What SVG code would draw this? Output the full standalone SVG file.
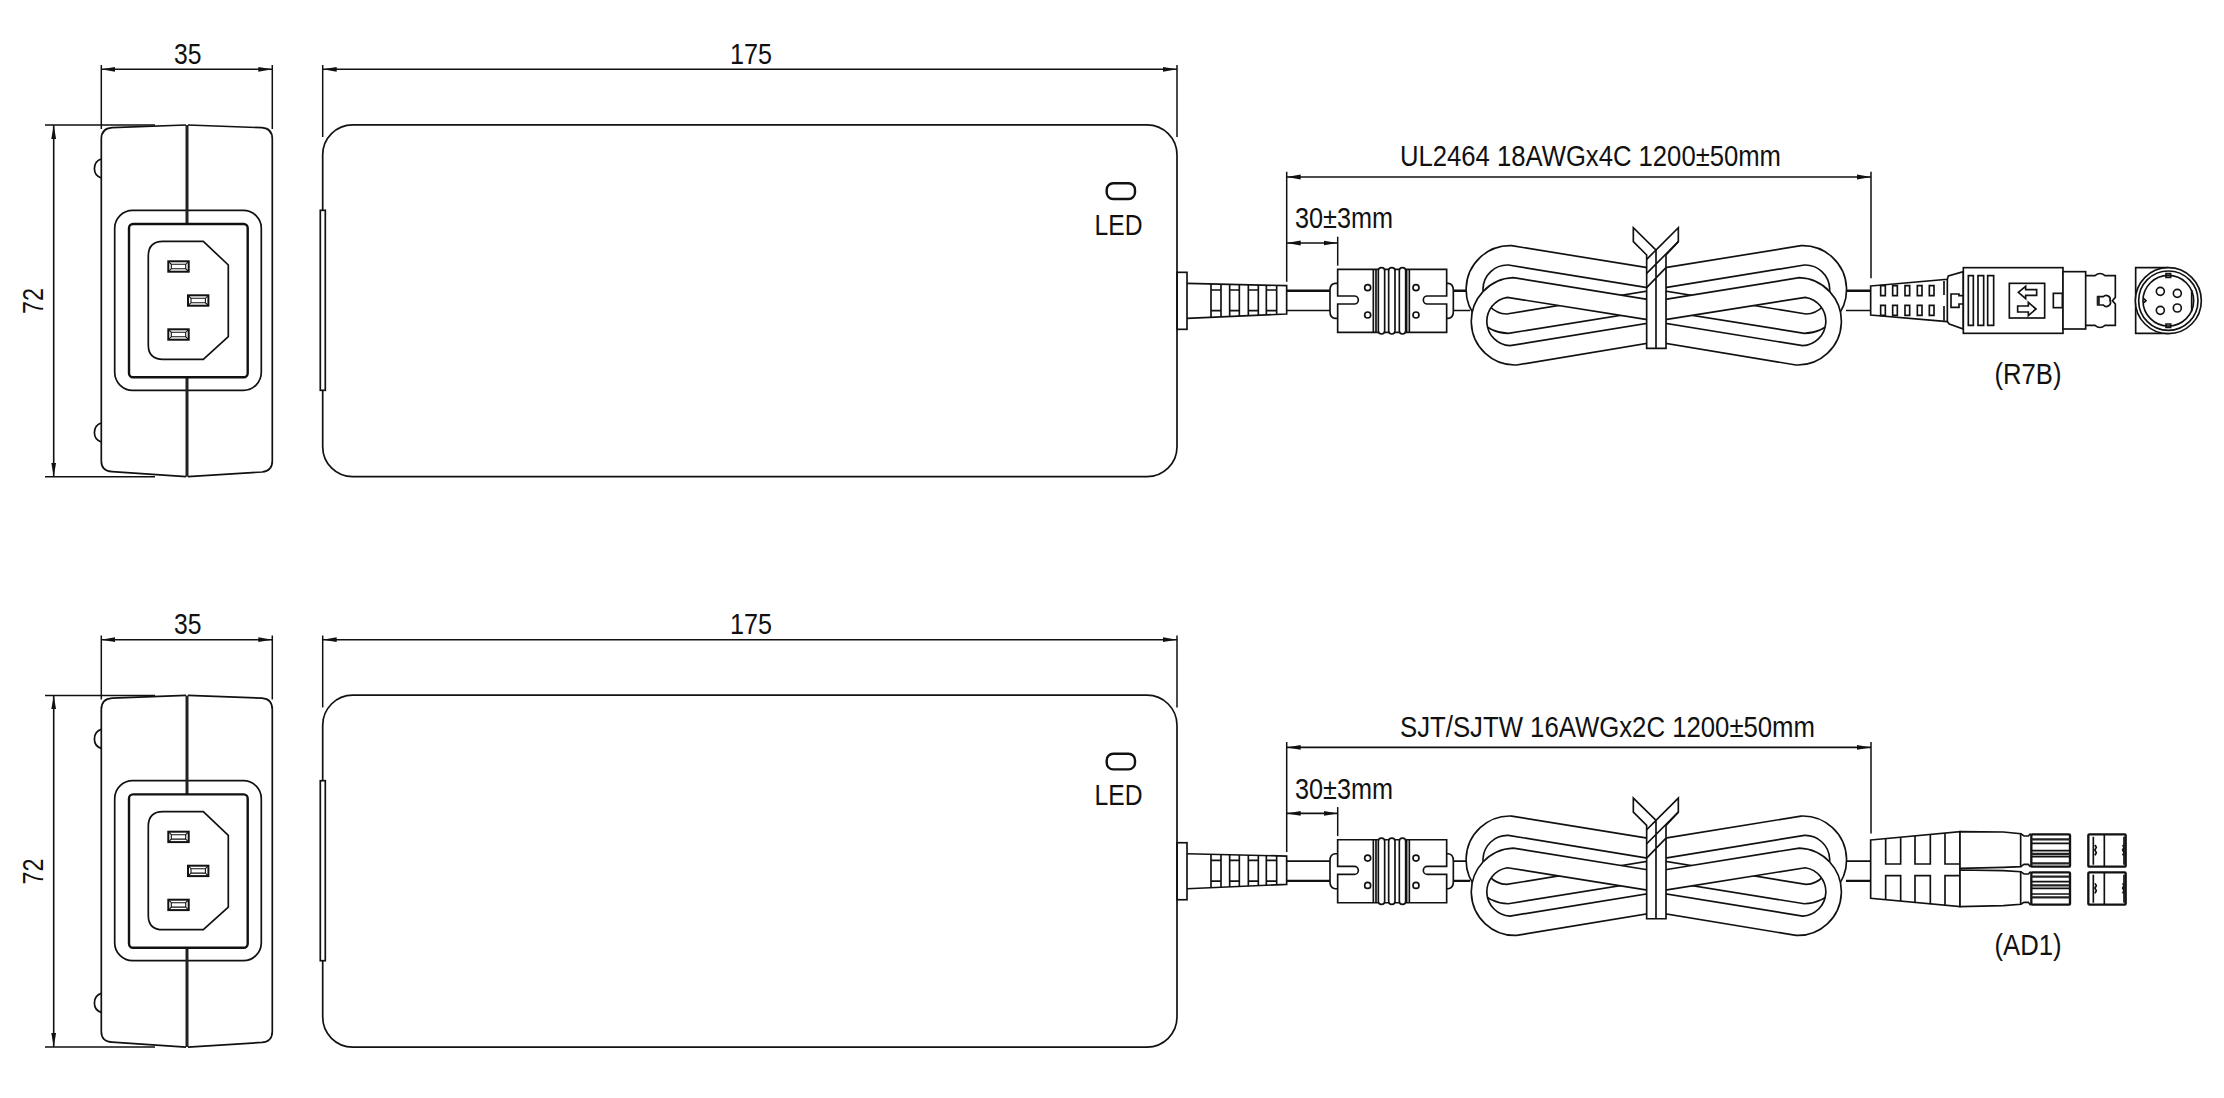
<svg xmlns="http://www.w3.org/2000/svg" xmlns:xlink="http://www.w3.org/1999/xlink" width="2224" height="1098" viewBox="0 0 2224 1098">
<style>
text{font-family:"Liberation Sans",Arial,sans-serif;font-size:29px;fill:#111}
.l{fill:none;stroke:#111;stroke-width:1.7}
.w{fill:#fff;stroke:#111;stroke-width:1.7}
.z{fill:none;stroke:#111;stroke-width:5}
.zw{fill:#fff;stroke:#111;stroke-width:5}
.zk{fill:none;stroke:#222;stroke-width:9}
.d{fill:none;stroke:#111;stroke-width:1.6;marker-start:url(#a);marker-end:url(#a)}
.e{fill:none;stroke:#111;stroke-width:1.5}
</style>
<defs>
<marker id="a" markerUnits="userSpaceOnUse" markerWidth="16" markerHeight="8" refX="14" refY="4" orient="auto-start-reverse"><path d="M14,4 L0,1.6 V6.4 Z" fill="#111"/></marker>
<g id="slot"><rect class="l" style="stroke-width:2" width="20.4" height="10.4"/><path class="l" style="stroke-width:1.1" d="M3,3 H17.4 L20.4,0 M17.4,3 V7.4 L20.4,10.4 M17.4,7.4 H3 L0,10.4 M3,7.4 V3 L0,0"/></g>
<g id="side">
<path class="l" d="M186,125 L112,127.7 Q101.3,128.5 101.3,139 V461 Q101.3,471 112,471.7 L186,476.7"/>
<path class="l" d="M188,125 L262,127.7 Q272.3,128.5 272.3,139 V461 Q272.3,471 262,472 L188,476.7"/>
<path class="l" d="M101.3,159 A10,10 0 0 0 101.3,178 M101.3,423 A10,10 0 0 0 101.3,442"/>
<rect class="l" x="114.7" y="210.3" width="146.6" height="180" rx="18"/>
<path fill="none" stroke="#222" stroke-width="3" d="M187,125 V224 M187,377 V476.7"/>
<rect class="l" style="stroke-width:2.4" x="129" y="224" width="118.7" height="153.3" rx="4"/>
<path class="l" d="M163,241.3 H203.3 L228.3,265 V336.7 L203.3,359.3 H163 Q148.3,359.3 148.3,345 V256 Q148.3,241.3 163,241.3 Z"/>
<use href="#slot" xlink:href="#slot" x="168.3" y="261.3"/>
<use href="#slot" xlink:href="#slot" x="188" y="295.3"/>
<use href="#slot" xlink:href="#slot" x="168.3" y="329.3"/>
</g>
<g id="top">
<rect class="l" x="322.7" y="124.8" width="854.3" height="351.9" rx="30"/>
<rect class="w" x="320.3" y="210.3" width="5" height="180"/>
<rect class="l" style="stroke-width:2.4" x="1106.7" y="183.3" width="28.3" height="15.7" rx="6.5"/>
</g>
<g id="relief" transform="translate(1080,120) scale(.33333)">
<rect class="z" x="291" y="457" width="30" height="171"/>
<path class="z" d="M321,490 L620,497 V582 L321,595"/>
<path class="z" d="M393,492 V591 M423,492 V590 M449,493 V589 M478,494 V588 M505,494 V587 M535,495 V586 M559,496 V585 M590,496 V583 M393,510 H423 M393,572 H423 M449,510 H478 M449,572 H478 M505,510 H535 M505,572 H535 M559,510 H590 M559,572 H590"/>
</g>
<g id="ferrite" transform="translate(1080,120) scale(.33333)">
<path class="z" d="M773,490 H765 Q750,492 750,510 V575 Q750,593 765,595 H773 M1100,490 H1105 Q1120,492 1120,510 V575 Q1120,593 1105,595 H1100"/>
<path class="zw" d="M773,528 V448 H1100 V528 H1042 A12,12 0 0 0 1042,552 H1100 V637 H773 V552 H823 A12,12 0 0 0 823,528 Z"/>
<path class="z" d="M880,448 V637 M888,448 V637 M980,448 V637 M988,448 V637"/>
<rect class="zw" x="895" y="443" width="19" height="199" rx="9.5"/>
<rect class="zw" x="926" y="443" width="19" height="199" rx="9.5"/>
<rect class="zw" x="958" y="443" width="19" height="199" rx="9.5"/>
<circle class="z" cx="863" cy="503" r="9"/><circle class="z" cx="863" cy="585" r="9"/>
<circle class="z" cx="1008" cy="503" r="9"/><circle class="z" cx="1008" cy="585" r="9"/>
</g>
<g id="coil" transform="translate(1420,200) scale(.33333)">
<path class="zw" fill-rule="evenodd" d="M682,203 L275,137 A131,131 0 0 0 265,400 L682,333 Z M682,263 L265,195 A73,73 0 0 0 260,342 L682,273 Z"/>
<path class="zw" fill-rule="evenodd" d="M736,203 L1143,137 A131,131 0 0 1 1153,400 L736,333 Z M736,263 L1153,195 A73,73 0 0 1 1158,342 L736,273 Z"/>
<path class="zw" fill-rule="evenodd" d="M682,298 L280,233 A131,131 0 0 0 290,495 L682,430 Z M682,359 L262,292 A73,73 0 0 0 270,437 L682,370 Z"/>
<path class="zw" fill-rule="evenodd" d="M736,298 L1138,233 A131,131 0 0 1 1128,495 L736,430 Z M736,359 L1156,292 A73,73 0 0 1 1148,437 L736,370 Z"/>
<path class="zw" d="M680,165 V445 H738 V165 L775,125 V83 L708,150 L640,83 V125 Z"/>
<path class="z" d="M708,150 V445 M775,125 L680,220 M738,203 L680,263 M708,150 L680,178"/>
</g>
</defs>

<g id="unit-r7b-side"><use href="#side" xlink:href="#side"/></g>
<g id="unit-r7b-top"><use href="#top" xlink:href="#top"/><text x="1094.5" y="235" textLength="48" lengthAdjust="spacingAndGlyphs">LED</text></g>
<g id="unit-r7b-cable">
<path fill="none" stroke="#111" stroke-width="2.4" d="M1286.7,290.7 H1330 M1453,290.7 H1470 M1846,290.7 H1871"/>
<path class="l" d="M1286.7,310.5 H1330 M1453,310.5 H1470 M1846,310.5 H1871"/>
<use href="#relief" xlink:href="#relief"/><use href="#ferrite" xlink:href="#ferrite"/><use href="#coil" xlink:href="#coil"/>
</g>
<g id="connector-r7b" transform="translate(1840,180) scale(.33333)">
<path class="zw" d="M92,318 L322,298 L325,288 L370,275 V447 L328,432 L322,425 L92,405 Z"/>
<path class="z" d="M322,298 V425 M312,303 V345 M312,378 V422"/>
<path class="z" d="M122,317 H136 V347 H122 Z M158,317 H172 V347 H158 Z M195,317 H209 V347 H195 Z M232,317 H246 V347 H232 Z M268,317 H282 V347 H268 Z M122,376 H136 V406 H122 Z M158,376 H172 V406 H158 Z M195,376 H209 V406 H195 Z M232,376 H246 V406 H232 Z M268,376 H282 V406 H268 Z"/>
<path class="z" d="M370,347 H357 V342 H333 V382 H357 V372 H370"/>
<rect class="zw" x="370" y="263" width="299" height="197"/>
<path class="z" d="M385,287 H400 V436 H385 Z M414,287 H431 V436 H414 Z M443,287 H461 V436 H443 Z"/>
<rect class="z" x="508" y="310" width="106" height="104"/>
<path class="z" d="M535,337 L557,319 V329 H590 V346 H557 V356 Z M588,387 L565,367 V378 H533 V396 H565 V407 Z"/>
<rect class="z" x="640" y="340" width="27" height="43"/>
<rect class="zw" x="669" y="275" width="68" height="172"/>
<path class="z" d="M737,287 H765 Q780,274 795,287 H826 V352 L817,362 L826,372 V436 H795 Q780,449 765,436 H737"/>
<path class="z" d="M790,350 H773 V375 H790 A12,12 0 0 0 810,362 A12,12 0 0 0 790,350 Z"/>
<path class="zk" d="M775,350 V375"/>
<path class="z" d="M985,263 H887 V460 H985"/>
<circle class="zw" cx="985" cy="362" r="99"/><circle class="z" cx="985" cy="362" r="89"/><circle class="z" cx="985" cy="362" r="76"/>
<path class="z" d="M1055,330 V394 M978,281 H992 V292 H978 Z M978,432 H992 V442 H978 Z M912,356 L918,362 L912,368"/>
<circle class="z" cx="961" cy="334" r="12"/><circle class="z" cx="1012" cy="340" r="12"/><circle class="z" cx="961" cy="391" r="12"/><circle class="z" cx="1012" cy="384" r="12"/>
</g>
<g id="dims-r7b">
<path class="d" d="M101.3,69.3 H272.3"/><path class="e" d="M101.3,65 V129 M272.3,65 V129"/>
<path class="d" d="M53.7,125 V476.7"/><path class="e" d="M45,125 H155 M45,476.7 H155"/>
<path class="d" d="M322.7,69.3 H1177"/><path class="e" d="M322.7,65 V137 M1177,65 V137"/>
<path class="d" d="M1286.7,177 H1871"/><path class="e" d="M1286.7,171.7 V281.7 M1871,171.7 V278.3"/>
<path class="d" d="M1286.7,243 H1337.7"/><path class="e" d="M1337.7,236.7 V265.7"/>
<text x="174" y="64" textLength="27.5" lengthAdjust="spacingAndGlyphs">35</text>
<text x="43" y="314" transform="rotate(-90 43 314)" textLength="26" lengthAdjust="spacingAndGlyphs">72</text>
<text x="730" y="64" textLength="42" lengthAdjust="spacingAndGlyphs">175</text>
<text x="1295" y="228.3" textLength="98" lengthAdjust="spacingAndGlyphs">30±3mm</text>
<text x="1400" y="166" textLength="381" lengthAdjust="spacingAndGlyphs">UL2464 18AWGx4C 1200±50mm</text>
<text x="1994.5" y="384" textLength="67" lengthAdjust="spacingAndGlyphs">(R7B)</text>
</g>

<g id="unit-ad1-side" transform="translate(0,570.4)"><use href="#side" xlink:href="#side"/></g>
<g id="unit-ad1-top" transform="translate(0,570.4)"><use href="#top" xlink:href="#top"/><text x="1094.5" y="235" textLength="48" lengthAdjust="spacingAndGlyphs">LED</text></g>
<g id="unit-ad1-cable" transform="translate(0,570.4)">
<path class="l" d="M1286.7,290.7 H1330 M1453,290.7 H1470 M1846,290.7 H1871"/>
<path fill="none" stroke="#111" stroke-width="2.4" d="M1286.7,310.5 H1330 M1453,310.5 H1470 M1846,310.5 H1871"/>
<use href="#relief" xlink:href="#relief"/><use href="#ferrite" xlink:href="#ferrite"/><use href="#coil" xlink:href="#coil"/>
</g>
<g id="connector-ad1" transform="translate(1840,760) scale(.33333)">
<path class="zw" d="M92,240 L360,215 V440 L92,415 Z"/>
<path class="z" d="M137,236 V312 H182 V232 M225,228 V312 H271 V223 M315,219 V312 H360 M137,419 V347 H182 V424 M225,428 V347 H271 V433 M315,437 V347 H360"/>
<path class="zw" d="M360,215 L490,216 L542,221 V320 L490,322 L360,325 Z"/>
<path class="zw" d="M360,330 L490,332 L542,335 V433 L490,437 L360,440 Z"/>
<path class="z" d="M542,221 L552,228 H565 L572,221 M542,320 L552,313 H565 L572,321 M542,335 L552,342 H565 L572,335 M542,433 L552,427 H565 L572,436"/>
<rect class="z" style="stroke-width:7" x="574" y="223" width="116" height="97" rx="3"/>
<rect class="z" style="stroke-width:7" x="574" y="337" width="116" height="97" rx="3"/>
<path class="z" d="M574,250 H690 M574,272 H690 M574,290 H690 M574,365 H690 M574,385 H690 M574,402 H690"/>
<path class="zk" d="M574,238 H690 M574,282 H690 M574,310 H690 M574,350 H690 M574,376 H690 M574,412 H690" style="stroke-width:7"/>
<rect class="z" style="stroke-width:7" x="745" y="223" width="112" height="97" rx="3"/>
<rect class="z" style="stroke-width:7" x="745" y="337" width="112" height="97" rx="3"/>
<path class="z" d="M760,230 V314 M852,230 V314 M760,344 V428 M852,344 V428 M793,223 V320 M793,337 V434 M765,255 L769,262 L765,270 L769,278 L765,286 M848,255 L852,262 L848,270 L852,278 L848,286 M765,370 L769,377 L765,384 L769,392 L765,400 M848,370 L852,377 L848,384 L852,392 L848,400"/>
</g>
<g id="dims-ad1">
<g transform="translate(0,570.4)">
<path class="d" d="M101.3,69.3 H272.3"/><path class="e" d="M101.3,65 V129 M272.3,65 V129"/>
<path class="d" d="M53.7,125 V476.7"/><path class="e" d="M45,125 H155 M45,476.7 H155"/>
<path class="d" d="M322.7,69.3 H1177"/><path class="e" d="M322.7,65 V137 M1177,65 V137"/>
<path class="d" d="M1286.7,177 H1871"/><path class="e" d="M1286.7,171.7 V281.7 M1871,171.7 V263"/>
<path class="d" d="M1286.7,243 H1337.7"/><path class="e" d="M1337.7,236.7 V265.7"/>
</g>
<text x="174" y="634.4" textLength="27.5" lengthAdjust="spacingAndGlyphs">35</text>
<text x="43" y="884.4" transform="rotate(-90 43 884.4)" textLength="26" lengthAdjust="spacingAndGlyphs">72</text>
<text x="730" y="634.4" textLength="42" lengthAdjust="spacingAndGlyphs">175</text>
<text x="1295" y="798.7" textLength="98" lengthAdjust="spacingAndGlyphs">30±3mm</text>
<text x="1400" y="736.7" textLength="415" lengthAdjust="spacingAndGlyphs">SJT/SJTW 16AWGx2C 1200±50mm</text>
<text x="1994.5" y="955" textLength="67" lengthAdjust="spacingAndGlyphs">(AD1)</text>
</g>
</svg>
